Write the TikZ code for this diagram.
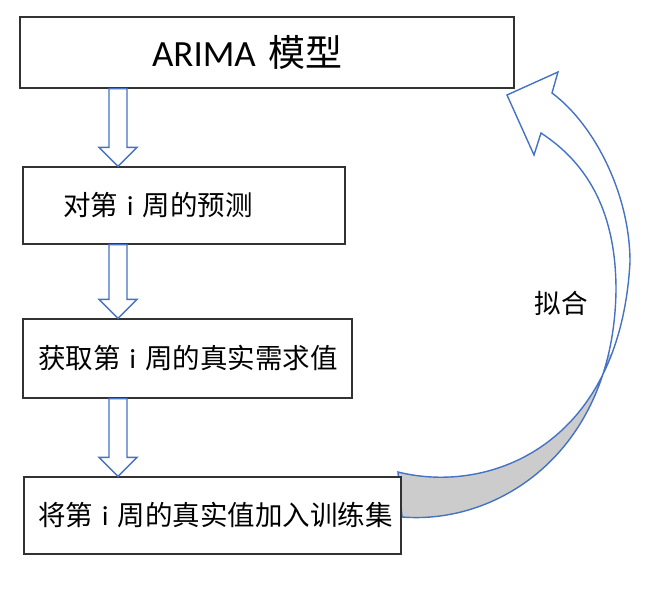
\documentclass[tikz,border=0pt]{standalone}
\usepackage{fontspec}
\usepackage{tikz}
\usetikzlibrary{calc}
\setmainfont{Carlito}
\newfontfamily\cjkfont{Noto Sans CJK SC}
\newcommand{\zh}[1]{{\cjkfont #1}}

\definecolor{officeblue}{RGB}{68,114,196}
\definecolor{boxline}{RGB}{50,50,50}
\definecolor{bandgray}{RGB}{204,204,204}

\tikzset{
  stepbox/.style={draw=boxline, line width=1.3pt, fill=white, align=left, inner ysep=0pt,
    font=\fontsize{27.5}{33}\selectfont},
  hollowarrow/.style={draw=officeblue, line width=1.4pt, fill=white, line join=miter},
  fitline/.style={draw=officeblue, line width=1.4pt, line join=miter}
}

% block arrow pointing down, from #1 to #2
\newcommand{\blockarrow}[2]{%
  \draw[hollowarrow] let \p1=(#1), \p2=(#2) in
    (\x1-9pt,\y1) -- (\x1-9pt,\y2+19pt) -- (\x1-19pt,\y2+19pt) -- (\x1,\y2)
    -- (\x1+19pt,\y2+19pt) -- (\x1+9pt,\y2+19pt) -- (\x1+9pt,\y1) -- cycle;}

\begin{document}
\begin{tikzpicture}[x=1pt,y=-1pt]
\useasboundingbox (0,0) rectangle (654,592);

% curved arrow (fit)
\begin{scope}
  \clip (380,354) rectangle (654,592);
  \fill[bandgray] (398,472) .. controls (490,495) and (620,445) .. (630,262)
    -- (616,290) .. controls (614,450) and (500,525) .. (402,517) -- cycle;
\end{scope}
\draw[fitline] (402,517) -- (398,472)
  .. controls (490,495) and (620,445) .. (630,262)
  .. controls (630,195) and (595,125) .. (552,93)
  -- (558,72) -- (507,95) -- (534,155) -- (541,133)
  .. controls (590,165) and (616,215) .. (616,290)
  .. controls (614,450) and (500,525) .. (402,517);
\node (fit) at (561,303) {\fontsize{26.5}{32}\selectfont\zh{拟合}};

% boxes
\node[stepbox, text width=230, inner xsep=132, minimum height=71,
  font=\fontsize{37}{44}\selectfont] (b1) at (267,52.5) {\mbox{ARIMA \zh{模型}}};
\node[stepbox, text width=242, inner xsep=40, minimum height=77] (b2) at (184,205.5)
  {\mbox{\zh{对第} i \zh{周的预测}}};
\node[stepbox, text width=299, inner xsep=15, minimum height=79] (b3) at (187.5,358.5)
  {\raisebox{3pt}{\mbox{\zh{获取第} i \zh{周的真实需求值}}}};
\node[stepbox, text width=349, inner xsep=14, minimum height=77] (b4) at (212.5,515.5)
  {\raisebox{3pt}{\mbox{\zh{将第} i \zh{周的真实值加入训练集}}}};

% down arrows
\coordinate (ax) at (118,0);
\blockarrow{b1.south -| ax}{b2.north -| ax}
\blockarrow{b2.south -| ax}{b3.north -| ax}
\blockarrow{b3.south -| ax}{b4.north -| ax}
\end{tikzpicture}
\end{document}
